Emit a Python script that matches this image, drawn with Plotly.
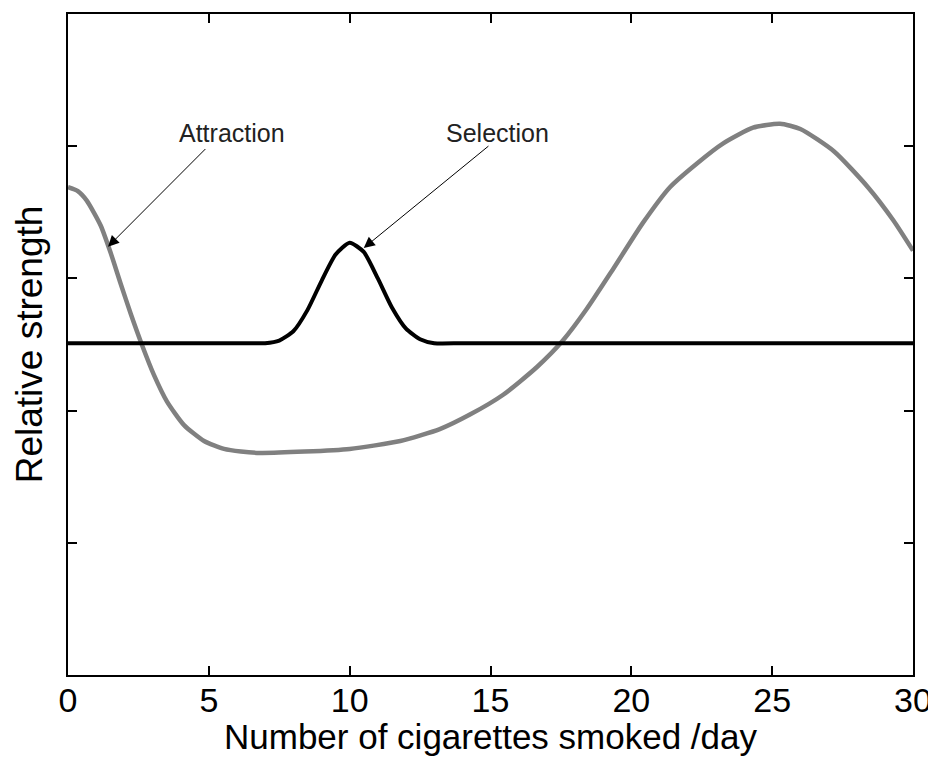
import plotly.graph_objects as go

# gray curve: attraction
attr_x = [0, 0.35, 0.66, 1.16, 1.52, 1.87, 2.23, 2.62, 3.05, 3.51, 4.12, 4.83, 5.54, 6.14, 6.8,
          8.4, 10.0, 11.8, 13.2, 14.27, 15.45, 16.65, 17.57, 18.42, 19.35, 20.41, 21.37,
          22.33, 23.25, 24.32, 25.28, 26.0, 27.2, 28.4, 29.3, 30]
attr_y = [3.69, 3.66, 3.59, 3.40, 3.19, 2.96, 2.73, 2.50, 2.27, 2.07, 1.89, 1.77, 1.71, 1.69, 1.68,
          1.69, 1.71, 1.77, 1.86, 1.97, 2.12, 2.33, 2.53, 2.77, 3.07, 3.42, 3.69,
          3.87, 4.02, 4.14, 4.17, 4.13, 3.96, 3.69, 3.44, 3.21]

# black curve: selection
sel_x = [0, 2, 4, 6, 7, 7.5, 8, 8.5, 9, 9.5, 10, 10.5, 11, 11.5, 12, 12.5, 13, 14, 17, 20, 25, 30]
sel_y = [2.51, 2.51, 2.51, 2.51, 2.51, 2.53, 2.6, 2.76, 2.98, 3.18, 3.27, 3.2, 3.0, 2.78, 2.62,
         2.54, 2.51, 2.51, 2.51, 2.51, 2.51, 2.51]

fig = go.Figure()
fig.add_trace(go.Scatter(x=attr_x, y=attr_y, mode="lines",
                         line=dict(color="#808080", width=4.5, shape="spline", smoothing=0.6)))
fig.add_trace(go.Scatter(x=sel_x, y=sel_y, mode="lines",
                         line=dict(color="black", width=4, shape="spline", smoothing=0.6)))

# labels
fig.add_annotation(x=5.82, y=4.10, text="Attraction", showarrow=False,
                   font=dict(family="Arial", size=25, color="#222"))
fig.add_annotation(x=15.26, y=4.10, text="Selection", showarrow=False,
                   font=dict(family="Arial", size=25, color="#222"))
# arrows
fig.add_annotation(x=1.42, y=3.24, ax=4.93, ay=3.99, axref="x", ayref="y", text="",
                   showarrow=True, arrowhead=2, arrowsize=2.2, arrowwidth=1, arrowcolor="black")
fig.add_annotation(x=10.5, y=3.23, ax=14.98, ay=4.01, axref="x", ayref="y", text="",
                   showarrow=True, arrowhead=2, arrowsize=2.2, arrowwidth=1, arrowcolor="black")

# x axis title
fig.add_annotation(xref="paper", yref="paper", x=0.5, y=0, yanchor="middle", yshift=-61,
                   text="Number of cigarettes smoked /day", showarrow=False,
                   font=dict(family="Arial", size=35, color="black"))

fig.update_layout(
    width=928, height=748,
    margin=dict(l=60, r=23, t=6, b=81),
    paper_bgcolor="white", plot_bgcolor="white",
    showlegend=False,
    font=dict(family="Arial", color="black"),
)
fig.update_xaxes(range=[0, 30], tickvals=[0, 5, 10, 15, 20, 25, 30], automargin=False,
                 ticks="inside", ticklen=9, tickwidth=1.5, tickcolor="black",
                 showline=True, linecolor="black", linewidth=1.5, mirror="ticks",
                 showgrid=False, zeroline=False, ticklabelstandoff=-6,
                 ticklabeloverflow="allow", tickfont=dict(size=34))
fig.update_yaxes(range=[0, 5], tickvals=[1, 2, 3, 4], showticklabels=False, automargin=False,
                 ticks="inside", ticklen=9, tickwidth=1.5, tickcolor="black",
                 showline=True, linecolor="black", linewidth=1.5, mirror="ticks",
                 showgrid=False, zeroline=False,
                 title=dict(text="Relative strength", font=dict(size=37), standoff=12))

fig.write_html("out.html")
